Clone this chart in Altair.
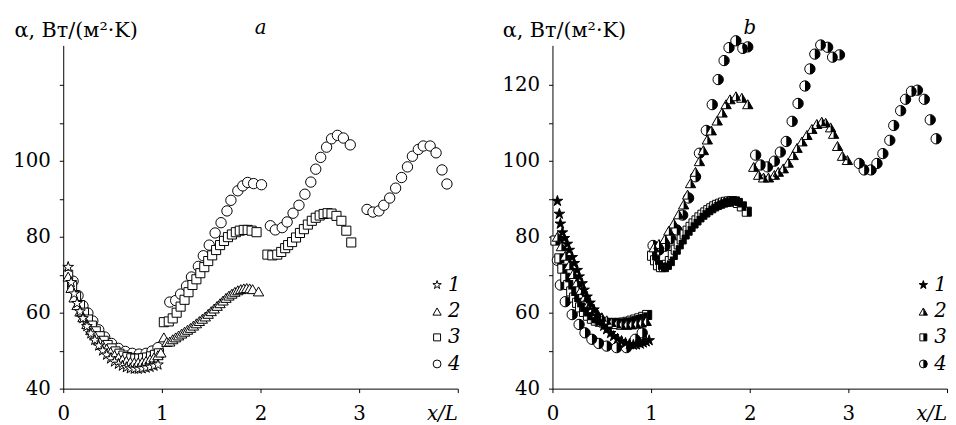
import altair as alt
import pandas as pd

SERIES = ["1", "2", "3", "4"]
LEGEND_LABELS = ["1", "2", "3", "4"]

# ---------------- panel a (open markers) ----------------
A1_X = [0.05, 0.08, 0.11, 0.14, 0.17, 0.20, 0.24, 0.28, 0.32, 0.36, 0.40, 0.44, 0.48,
        0.52, 0.56, 0.60, 0.64, 0.68, 0.72, 0.76, 0.80, 0.84, 0.88, 0.92, 0.96]
A1_Y = [72.0, 68.0, 65.0, 62.5, 60.3, 58.5, 56.4, 54.5, 52.8, 51.3, 50.0, 48.9, 47.9,
        47.1, 46.5, 46.0, 45.6, 45.3, 45.2, 45.2, 45.3, 45.5, 45.7, 46.0, 46.3]

A2_X = [0.05, 0.08, 0.11, 0.14, 0.17, 0.20, 0.24, 0.28, 0.32, 0.36, 0.40, 0.44, 0.48,
        0.52, 0.56, 0.60, 0.64, 0.68, 0.72, 0.76, 0.80, 0.84, 0.88, 0.92, 0.96, 0.99,
        1.02, 1.05, 1.08, 1.11, 1.14, 1.17, 1.20, 1.23, 1.26, 1.29, 1.32, 1.35, 1.38,
        1.41, 1.44, 1.47, 1.50, 1.53, 1.56, 1.59, 1.62, 1.65, 1.68, 1.71, 1.74, 1.77,
        1.80, 1.83, 1.86, 1.89, 1.92, 1.98]
A2_Y = [69.5, 66.5, 64.0, 62.0, 60.3, 58.8, 57.0, 55.4, 54.0, 52.7, 51.5, 50.5, 49.6,
        48.8, 48.2, 47.7, 47.3, 47.0, 46.9, 46.9, 47.0, 47.3, 47.7, 48.2, 48.8, 49.5,
        53.5, 52.3, 52.4, 53.0, 53.5, 54.0, 54.5, 55.0, 55.5, 56.0, 56.6, 57.2, 57.8,
        58.4, 59.0, 59.7, 60.4, 61.1, 61.8, 62.5, 63.2, 63.9, 64.5, 65.0, 65.5, 65.9,
        66.2, 66.4, 66.5, 66.4, 66.2, 65.6]

A3_X = [0.05, 0.09, 0.13, 0.17, 0.21, 0.25, 0.29, 0.33, 0.37, 0.41, 0.45, 0.49, 0.53,
        0.57, 0.61, 0.65, 0.69, 0.73, 0.77, 0.81, 0.85, 0.89, 0.93, 0.97,
        1.02, 1.07, 1.11, 1.15, 1.19, 1.23, 1.27, 1.31, 1.35, 1.39, 1.43, 1.47, 1.51,
        1.55, 1.59, 1.63, 1.67, 1.71, 1.75, 1.79, 1.83, 1.87, 1.91, 1.96,
        2.07, 2.12, 2.17, 2.21, 2.25, 2.28, 2.32, 2.36, 2.40, 2.44, 2.48, 2.52, 2.56,
        2.60, 2.64, 2.68, 2.72, 2.77, 2.82, 2.87, 2.92]
A3_Y = [70.0, 67.0, 64.3, 62.0, 60.0, 58.2, 56.6, 55.1, 53.8, 52.6, 51.5, 50.6, 49.8,
        49.2, 48.7, 48.3, 48.0, 47.9, 47.9, 48.0, 48.2, 48.5, 48.9, 49.3,
        57.5, 57.7, 58.5, 60.0, 61.6, 63.4, 65.4, 67.3, 68.8, 70.4, 72.0, 73.6, 75.1,
        76.5, 77.8, 78.9, 79.9, 80.6, 81.2, 81.6, 81.8, 81.8, 81.6, 81.2,
        75.3, 75.1, 75.3, 76.0, 77.0, 77.8, 78.6, 79.8, 81.0, 82.0, 83.2, 84.2, 85.0,
        85.6, 86.0, 86.2, 86.1, 85.5, 84.2, 81.6, 78.5]

A4_X = [0.10, 0.15, 0.20, 0.25, 0.30, 0.36, 0.42, 0.49, 0.56, 0.63, 0.70, 0.77, 0.84,
        0.90, 0.96,
        1.08, 1.14, 1.19, 1.25, 1.30, 1.37, 1.42, 1.48, 1.54, 1.60, 1.66, 1.70, 1.77,
        1.82, 1.87, 1.93, 2.01,
        2.10, 2.15, 2.22, 2.27, 2.33, 2.39, 2.45, 2.51, 2.56, 2.61, 2.67, 2.72, 2.78,
        2.84, 2.91,
        3.08, 3.14, 3.20, 3.25, 3.31, 3.37, 3.43, 3.49, 3.54, 3.60, 3.65, 3.72, 3.78,
        3.84, 3.89]
A4_Y = [68.3, 64.5, 61.8, 59.9, 57.8, 55.5, 53.6, 51.9, 50.6, 49.8, 49.3, 49.1, 49.3,
        49.9, 50.8,
        62.8, 63.2, 64.9, 67.0, 69.4, 72.2, 75.0, 77.8, 81.0, 83.7, 86.8, 89.6, 92.1,
        93.4, 94.3, 94.0, 93.7,
        82.9, 81.8, 82.4, 83.9, 86.2, 88.3, 91.2, 94.4, 97.8, 100.9, 103.6, 105.8, 106.7,
        106.0, 104.2,
        87.2, 86.5, 86.8, 88.3, 90.2, 92.8, 95.6, 98.4, 101.2, 103.0, 103.9, 103.9, 102.1,
        97.6, 93.9]

# ---------------- panel b (filled / half-filled markers) ----------------
B1_X = [0.05, 0.07, 0.08, 0.10, 0.12, 0.15, 0.17, 0.20, 0.22, 0.25, 0.27, 0.30, 0.32,
        0.35, 0.38, 0.42, 0.45, 0.48, 0.52, 0.55, 0.59, 0.62, 0.66, 0.70, 0.74, 0.78,
        0.82, 0.85, 0.89, 0.92, 0.95, 0.98]
B1_Y = [89.4, 86.0, 83.4, 81.1, 79.6, 78.1, 76.5, 74.6, 73.0, 71.2, 69.5, 67.7, 66.0,
        64.2, 62.6, 60.8, 59.2, 57.7, 56.5, 55.6, 54.6, 53.8, 53.1, 52.5, 52.0, 51.7,
        51.5, 51.6, 51.8, 52.1, 52.4, 52.7]

B2_X = [0.05, 0.09, 0.13, 0.17, 0.21, 0.25, 0.29, 0.33, 0.37, 0.41, 0.45, 0.50, 0.55,
        0.60, 0.65, 0.70, 0.75, 0.80, 0.85, 0.90, 0.95,
        1.03, 1.08, 1.14, 1.18, 1.23, 1.28, 1.33, 1.37, 1.40, 1.45, 1.49, 1.53, 1.57,
        1.61, 1.67, 1.72, 1.76, 1.80, 1.86, 1.92, 1.98,
        2.04, 2.09, 2.14, 2.19, 2.25, 2.29, 2.34, 2.39, 2.44, 2.48, 2.53, 2.58, 2.63,
        2.68, 2.73, 2.77, 2.82, 2.85, 2.89, 2.94, 2.99]
B2_Y = [80.0, 77.5, 75.0, 72.5, 70.2, 68.0, 66.0, 64.2, 62.6, 61.2, 60.0, 58.8, 58.0,
        57.4, 57.0, 56.8, 56.8, 56.9, 57.1, 57.4, 57.8,
        77.2, 78.1, 79.4, 81.6, 83.5, 85.9, 88.5, 91.1, 94.1, 97.1, 99.9, 102.8, 105.6,
        108.0, 110.6, 112.7, 114.9, 116.2, 117.0, 116.6, 114.9,
        98.4, 96.3, 95.6, 95.6, 96.3, 97.1, 98.0, 99.5, 101.5, 103.4, 105.1, 106.8, 108.4,
        109.7, 110.3, 110.0, 108.8, 107.1, 103.9, 101.3, 100.2]

B3_X = [0.03, 0.07, 0.10, 0.13, 0.16, 0.19, 0.22, 0.25, 0.28, 0.32, 0.36, 0.40, 0.44,
        0.48, 0.52, 0.56, 0.60, 0.64, 0.68, 0.72, 0.76, 0.80, 0.84, 0.88, 0.92, 0.96,
        1.01, 1.04, 1.07, 1.10, 1.13, 1.16, 1.19, 1.22, 1.25, 1.28, 1.31, 1.34, 1.37,
        1.40, 1.43, 1.46, 1.49, 1.52, 1.55, 1.58, 1.61, 1.64, 1.67, 1.70, 1.73, 1.76,
        1.79, 1.82, 1.85, 1.88, 1.92, 1.97]
B3_Y = [79.0, 74.3, 71.6, 69.2, 67.3, 65.6, 64.0, 62.6, 61.4, 60.2, 59.2, 58.4, 57.9,
        57.6, 57.4, 57.3, 57.3, 57.3, 57.3, 57.4, 57.6, 57.9, 58.2, 58.5, 58.9, 59.4,
        75.0, 73.8, 72.5, 72.0, 72.0, 72.6, 73.6, 75.2, 76.6, 78.0, 79.3, 80.6, 81.6,
        82.6, 83.5, 84.3, 85.1, 85.8, 86.4, 87.0, 87.5, 88.0, 88.4, 88.7, 89.0, 89.2,
        89.3, 89.4, 89.3, 88.9, 88.0, 86.6]

B4_X = [0.05, 0.08, 0.13, 0.20, 0.27, 0.33, 0.40, 0.47, 0.55, 0.65, 0.75, 0.84, 0.91,
        1.02, 1.08, 1.14, 1.20, 1.26, 1.32, 1.38, 1.45, 1.49, 1.56, 1.62, 1.68, 1.74,
        1.79, 1.86, 1.93, 1.98,
        2.06, 2.11, 2.18, 2.25, 2.31, 2.37, 2.43, 2.49, 2.56, 2.61, 2.66, 2.72, 2.79,
        2.84, 2.91,
        3.11, 3.16, 3.23, 3.29, 3.35, 3.42, 3.46, 3.53, 3.58, 3.64, 3.70, 3.77, 3.83,
        3.89]
B4_Y = [73.8, 67.3, 62.9, 59.5, 56.9, 54.7, 53.0, 51.9, 51.2, 50.8, 50.8, 53.0, 54.7,
        77.7, 76.5, 77.5, 79.5, 81.8, 85.7, 90.2, 95.8, 102.0, 108.0, 114.8, 121.4, 126.4,
        129.8, 131.6, 129.6, 130.0,
        101.5, 98.9, 98.4, 99.9, 102.3, 105.1, 110.4, 115.1, 119.7, 124.2, 128.1, 130.5, 129.9,
        127.3, 127.9,
        99.3, 97.6, 97.6, 99.3, 101.9, 105.4, 109.3, 113.2, 116.2, 118.3, 118.6, 116.2, 110.8,
        105.8]

X_TICKS = [0, 0.5, 1, 1.5, 2, 2.5, 3, 3.5, 4]
Y_TICKS = [40, 50, 60, 70, 80, 90, 100, 110, 120]

A_DATA = {"1": (A1_X, A1_Y), "2": (A2_X, A2_Y), "3": (A3_X, A3_Y), "4": (A4_X, A4_Y)}
B_DATA = {"1": (B1_X, B1_Y), "2": (B2_X, B2_Y), "3": (B3_X, B3_Y), "4": (B4_X, B4_Y)}

# ---------------- styling / layout ----------------
FONT = "DejaVu Serif"
FS = 20
TFS = 21
STAR = ("M0,-1L0.225,-0.309L0.951,-0.309L0.363,0.118L0.588,0.809L0,0.382"
        "L-0.588,0.809L-0.363,0.118L-0.951,-0.309L-0.225,-0.309Z")
HALF_TRI = "M0,-0.866L1,0.866L0,0.866Z"
HALF_SQ = "M0,-1L1,-1L1,1L0,1Z"
HALF_CIRC = "M0,-1A1,1 0 0,1 0,1Z"
FULL_SHAPE = {"1": STAR, "2": "triangle-up", "3": "square", "4": "circle"}
HALF_SHAPE = {"2": HALF_TRI, "3": HALF_SQ, "4": HALF_CIRC}
SIZE = {"1": 130, "2": 110, "3": 85, "4": 110}
LEG_SIZE = {"1": 80, "2": 70, "3": 50, "4": 64}
DRAW_ORDER = ["4", "3", "2", "1"]
Y_MAX = 130.4

# legend layout (data units) for each panel
LEG_ROWS = {"1": 67.3, "2": 60.3, "3": 53.5, "4": 46.5}
LEG_A = (3.79, 3.90)
LEG_B = (3.76, 3.87)

TITLE_Y = "α, Вт/(м²·K)"


def x_enc():
    return alt.X(
        "x:Q",
        scale=alt.Scale(domain=[0, 4], nice=False, zero=False),
        axis=alt.Axis(
            values=X_TICKS, title=None, format="d",
            labelExpr="datum.value % 1 == 0 && datum.value < 4 ? datum.label : ''",
            labelFlush=False, labelOverlap=False, labelPadding=11,
        ),
    )


def y_enc(label_expr, title_x):
    return alt.Y(
        "y:Q",
        scale=alt.Scale(domain=[40, Y_MAX], nice=False, zero=False),
        axis=alt.Axis(
            values=Y_TICKS, labelExpr=label_expr, labelPadding=9, format="d",
            title=TITLE_Y, titleAngle=0, titleAlign="left", titleBaseline="alphabetic",
            titleX=title_x, titleY=-9,
        ),
    )


def series_df(xs, ys):
    return pd.DataFrame({"x": xs, "y": ys})


def annotations(X, Y, letter):
    xl = alt.Chart(pd.DataFrame({"t": ["x/L"]})).mark_text(
        font=FONT, fontSize=FS, fontStyle="italic", align="right", baseline="alphabetic",
        dy=32, dx=0, color="black",
    ).encode(x=alt.datum(4), y=alt.datum(40), text="t:N")
    let = alt.Chart(pd.DataFrame({"t": [letter]})).mark_text(
        font=FONT, fontSize=FS, fontStyle="italic", align="center", baseline="alphabetic",
        dy=-12, color="black",
    ).encode(x=alt.datum(2), y=alt.datum(Y_MAX), text="t:N")
    return [xl, let]


def panel(data, legpos, letter, y_expr, title_x, half):
    X = x_enc()
    Y = y_enc(y_expr, title_x)
    layers = []
    for s in DRAW_ORDER:
        xs, ys = data[s]
        d = series_df(xs, ys)
        fill = "black" if (half and s == "1") else "white"
        layers.append(alt.Chart(d).mark_point(
            shape=FULL_SHAPE[s], size=SIZE[s], filled=True, fill=fill,
            stroke="black", strokeWidth=1, opacity=1).encode(x=X, y=Y))
        if half and s in HALF_SHAPE:
            layers.append(alt.Chart(d).mark_point(
                shape=HALF_SHAPE[s], size=SIZE[s], filled=True, fill="black",
                strokeWidth=0, opacity=1).encode(x=X, y=Y))
    sym_x, txt_x = legpos
    for s in SERIES:
        ld = pd.DataFrame({"x": [sym_x], "y": [LEG_ROWS[s]]})
        fill = "black" if (half and s == "1") else "white"
        layers.append(alt.Chart(ld).mark_point(
            shape=FULL_SHAPE[s], size=LEG_SIZE[s], filled=True, fill=fill,
            stroke="black", strokeWidth=1, opacity=1).encode(x=X, y=Y))
        if half and s in HALF_SHAPE:
            layers.append(alt.Chart(ld).mark_point(
                shape=HALF_SHAPE[s], size=LEG_SIZE[s], filled=True, fill="black",
                strokeWidth=0, opacity=1).encode(x=X, y=Y))
    lt = pd.DataFrame({"x": [txt_x] * 4, "y": [LEG_ROWS[s] for s in SERIES],
                       "t": LEGEND_LABELS})
    layers.append(alt.Chart(lt).mark_text(
        font=FONT, fontSize=FS, fontStyle="italic", align="left", baseline="middle",
        color="black").encode(x=X, y=Y, text="t:N"))
    layers += annotations(X, Y, letter)
    return alt.layer(*layers).properties(width=400, height=348)


panel_a = panel(A_DATA, LEG_A, "a",
                "datum.value % 20 == 0 && datum.value <= 100 ? datum.label : ''", -50, False)
panel_b = panel(B_DATA, LEG_B, "b", "datum.value % 20 == 0 ? datum.label : ''", -51, True)

chart = alt.hconcat(panel_a, panel_b, spacing=96, bounds="flush").configure(
    padding={"left": 4, "top": 7, "right": 0, "bottom": 0},
    font=FONT,
).configure_view(stroke=None).configure_axis(
    domainColor="black", domainWidth=1, tickColor="black", tickWidth=1, tickSize=4,
    labelFont=FONT, labelFontSize=FS, labelColor="black",
    titleFont=FONT, titleFontSize=TFS, titleFontWeight="normal", titleColor="black",
    grid=False,
)

chart.save("out.html", embed_options={"renderer": "svg", "actions": False})
